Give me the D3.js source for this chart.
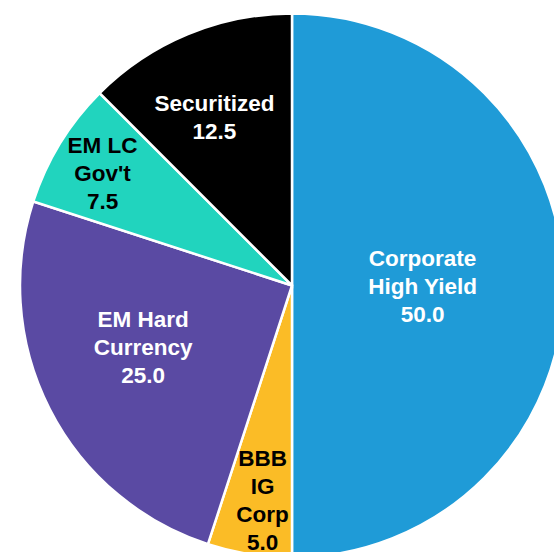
<!DOCTYPE html>
<html>
<head>
<meta charset="utf-8">
<script src="https://cdn.jsdelivr.net/npm/d3@7"></script>
<style>
html,body{margin:0;padding:0;background:#fff;overflow:hidden;}
svg{display:block;}
</style>
</head>
<body>
<svg id="chart" width="554" height="552"></svg>
<script>
const categories = ["Corporate\nHigh Yield", "BBB\nIG\nCorp", "EM Hard\nCurrency", "EM LC\nGov't", "Securitized"];
const values = [50.0, 5.0, 25.0, 7.5, 12.5];
const colors = ["#1F9BD7", "#FBBC26", "#5A4AA3", "#21D4BE", "#000000"];
const textColors = ["#ffffff", "#000000", "#ffffff", "#000000", "#ffffff"];

const data = categories.map((c, i) => ({cat: c, value: values[i], color: colors[i], tc: textColors[i]}));

const svg = d3.select("#chart");
const cx = 292, cy = 285.5, R = 272;
const g = svg.append("g").attr("transform", `translate(${cx},${cy})`);

const pie = d3.pie().value(d => d.value).sort(null).startAngle(0).endAngle(2 * Math.PI);
const arcs = pie(data);
const arc = d3.arc().innerRadius(0).outerRadius(R);

g.selectAll("path.slice").data(arcs).join("path")
  .attr("class", "slice")
  .attr("d", arc)
  .attr("fill", d => d.data.color)
  .attr("stroke", "#ffffff")
  .attr("stroke-width", 2.5)
  .attr("stroke-linejoin", "miter");

// label placement (fraction of R, angular nudge in degrees), mimicking best-fit placement
const labelPlace = [[0.48, 0], [0.794, -1.15], [0.592, 4.6], [0.811, -0.7], [0.682, -2.2]];
const fs = 22.5, lh = 28;

arcs.forEach((a, i) => {
  const [fr, da] = labelPlace[i];
  const ang = (a.startAngle + a.endAngle) / 2 + da * Math.PI / 180;
  const x = Math.sin(ang) * R * fr;
  const y = -Math.cos(ang) * R * fr;
  const lines = a.data.cat.split("\n").concat([d3.format(".1f")(a.data.value)]);
  const n = lines.length;
  const t = g.append("text")
    .attr("text-anchor", "middle")
    .attr("font-family", "Liberation Sans, Arial, sans-serif")
    .attr("font-weight", "bold")
    .attr("font-size", fs)
    .attr("fill", a.data.tc);
  lines.forEach((ln, j) => {
    t.append("tspan")
      .attr("x", x)
      .attr("y", y + (j - (n - 1) / 2) * lh + fs * 0.36)
      .text(ln);
  });
});
</script>
</body>
</html>
